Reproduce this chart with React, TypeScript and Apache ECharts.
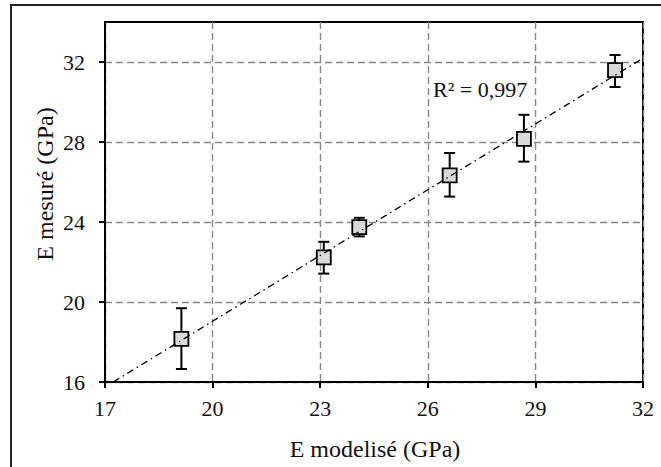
import React, { useEffect, useRef } from "react";
import * as echarts from "echarts";

// Data
const modelled = [19.13, 23.1, 24.09, 26.61, 28.68, 31.22];
const measured = [18.16, 22.23, 23.74, 26.33, 28.16, 31.59];
const errLow = [16.65, 21.42, 23.28, 25.27, 27.02, 30.75];
const errHigh = [19.69, 23.01, 24.21, 27.45, 29.36, 32.35];
const trendX = [17.23, 32];
const trendY = [16, 32.19];
const xTicks = [17, 20, 23, 26, 29, 32];
const yTicks = [16, 20, 24, 28, 32];
const xTitle = "E modelisé (GPa)";
const yTitle = "E mesuré (GPa)";
const r2Label = "R² = 0,997";

const FONT = "Liberation Serif";

export default function App() {
  const ref = useRef<HTMLDivElement>(null);
  useEffect(() => {
    if (!ref.current) return;
    document.body.style.margin = "0";
    const chart = echarts.init(ref.current, null, { renderer: "svg" });
    const points = modelled.map((x, i) => [x, measured[i]]);
    const errs = modelled.map((x, i) => [x, errLow[i], errHigh[i]]);
    const trend = trendX.map((x, i) => [x, trendY[i]]);
    chart.setOption({
      animation: false,
      backgroundColor: "#ffffff",
      grid: {
        left: 105,
        top: 22,
        right: 18,
        bottom: 85,
        show: true,
        borderColor: "#000",
        borderWidth: 2,
        backgroundColor: "transparent",
      },
      xAxis: {
        type: "value",
        min: 17,
        max: 32,
        axisLine: { show: true, lineStyle: { color: "#000", width: 2 } },
        axisTick: { show: true, customValues: xTicks, length: 6, lineStyle: { color: "#000", width: 2 } },
        axisLabel: {
          customValues: xTicks,
          margin: 15,
          color: "#111",
          fontFamily: FONT,
          fontSize: 22,
        },
        splitLine: { show: true, lineStyle: { color: "#888", width: 1.4, type: [7, 4] } },
      },
      yAxis: {
        type: "value",
        min: 16,
        max: 34,
        axisLine: { show: true, lineStyle: { color: "#000", width: 2 } },
        axisTick: { show: true, customValues: yTicks, length: 6, lineStyle: { color: "#000", width: 2 } },
        axisLabel: {
          customValues: yTicks,
          margin: 20,
          color: "#111",
          fontFamily: FONT,
          fontSize: 22,
        },
        splitLine: { show: true, lineStyle: { color: "#888", width: 1.4, type: [7, 4] } },
      },
      series: [
        {
          type: "custom",
          z: 1,
          data: errs,
          renderItem: (params: any, api: any) => {
            const x = api.value(0);
            const lo = api.coord([x, api.value(1)]);
            const hi = api.coord([x, api.value(2)]);
            const hw = 5.5;
            const style = { stroke: "#000", lineWidth: 2 };
            return {
              type: "group",
              children: [
                { type: "line", shape: { x1: lo[0], y1: lo[1], x2: hi[0], y2: hi[1] }, style },
                { type: "line", shape: { x1: lo[0] - hw, y1: lo[1], x2: lo[0] + hw, y2: lo[1] }, style },
                { type: "line", shape: { x1: hi[0] - hw, y1: hi[1], x2: hi[0] + hw, y2: hi[1] }, style },
              ],
            };
          },
        },
        {
          type: "scatter",
          z: 2,
          data: points,
          symbol: "rect",
          symbolSize: 14,
          itemStyle: { color: "#d9d9d9", borderColor: "#000", borderWidth: 1.8, opacity: 1 },
        },
        {
          type: "line",
          z: 3,
          data: trend,
          symbol: "none",
          lineStyle: { color: "#000", width: 1.3, type: [7, 4, 1.5, 4] },
        },
      ],
      graphic: [
        {
          type: "rect",
          silent: true,
          shape: { x: 11, y: 5, width: 700, height: 500 },
          style: { fill: "none", stroke: "#222", lineWidth: 2 },
        },
        {
          type: "text",
          x: 375,
          y: 449,
          style: {
            text: xTitle,
            fontFamily: FONT,
            fontSize: 24,
            fill: "#111",
            textAlign: "center",
            textVerticalAlign: "middle",
          },
        },
        {
          type: "text",
          x: 45,
          y: 184,
          rotation: Math.PI / 2,
          style: {
            text: yTitle,
            fontFamily: FONT,
            fontSize: 24,
            fill: "#111",
            textAlign: "center",
            textVerticalAlign: "middle",
          },
        },
        {
          type: "text",
          x: 433,
          y: 89,
          style: {
            text: r2Label,
            fontFamily: FONT,
            fontSize: 22,
            fill: "#111",
            textAlign: "left",
            textVerticalAlign: "middle",
          },
        },
      ],
    });
    return () => chart.dispose();
  }, []);
  return <div ref={ref} style={{ width: 661, height: 467 }} />;
}
